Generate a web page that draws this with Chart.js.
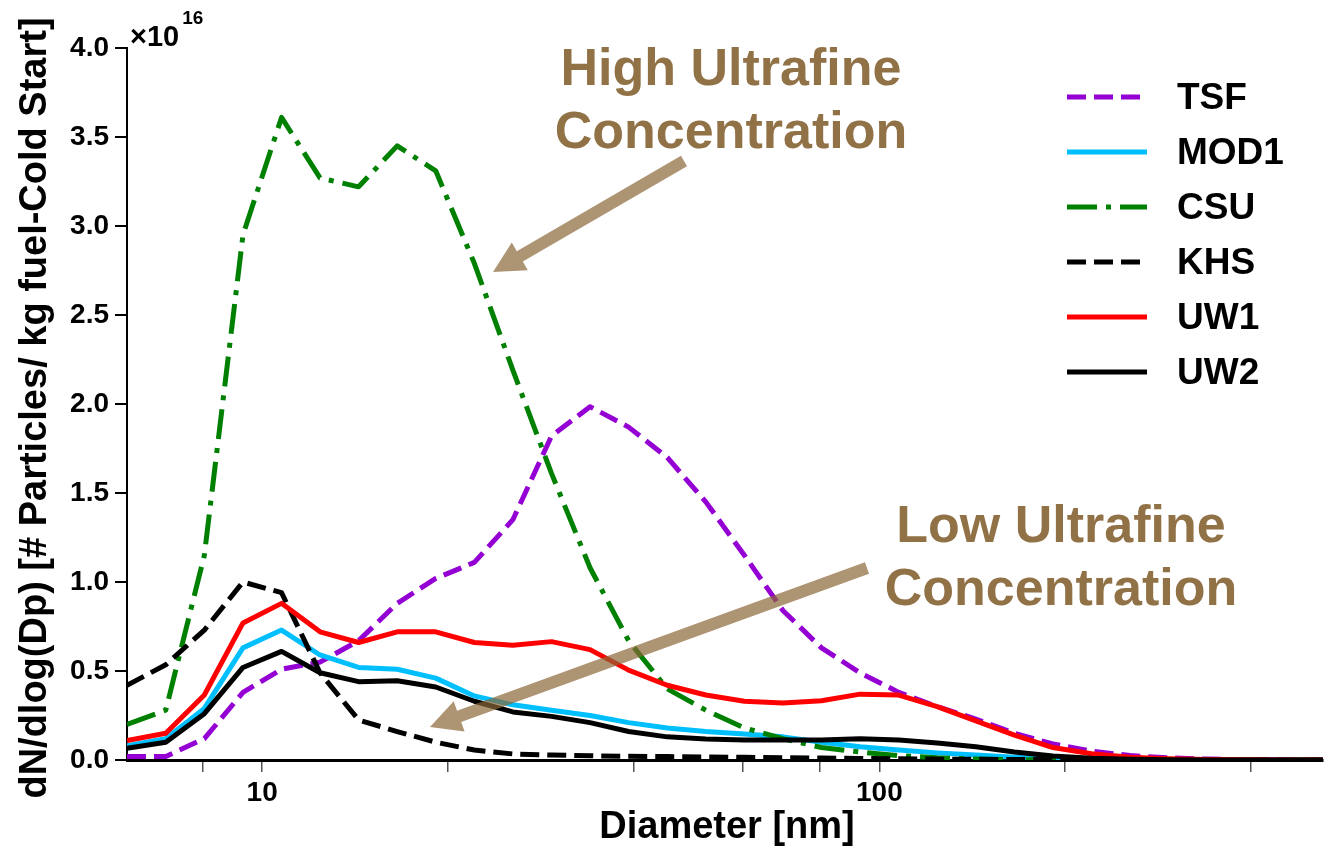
<!DOCTYPE html>
<html>
<head>
<meta charset="utf-8">
<script src="https://cdn.jsdelivr.net/npm/chart.js@4.4.1/dist/chart.umd.min.js"></script>
<style>
html,body{margin:0;padding:0;background:#fff;}
canvas{display:block;}
</style>
</head>
<body>
<canvas id="c" width="1332" height="847"></canvas>
<script>
// ---- data (values in units of 1e16) ----
const diameters = [6.04, 6.98, 8.06, 9.31, 10.75, 12.41, 14.33, 16.55, 19.11, 22.07, 25.48, 29.43, 33.98, 39.24, 45.32, 52.33, 60.43, 69.78, 80.58, 93.06, 107.5, 124.1, 143.3, 165.5, 191.1, 220.7, 254.8, 294.3, 339.8, 392.4, 453.2, 523.3];
const seriesNames = ["TSF", "MOD1", "CSU", "KHS", "UW1", "UW2"];
const tsf  = [0.02,0.02,0.12,0.38,0.51,0.55,0.67,0.88,1.02,1.11,1.35,1.82,1.985,1.87,1.70,1.45,1.15,0.84,0.63,0.49,0.38,0.30,0.23,0.15,0.09,0.05,0.025,0.012,0.005,0.002,0.001,0];
const mod1 = [0.08,0.12,0.29,0.63,0.73,0.59,0.52,0.51,0.46,0.36,0.31,0.28,0.25,0.21,0.18,0.16,0.146,0.13,0.10,0.075,0.056,0.04,0.028,0.015,0.006,0.002,0.001,0,0,0,0,0];
const csu  = [0.20,0.28,1.15,2.95,3.61,3.27,3.22,3.45,3.31,2.79,2.19,1.61,1.08,0.67,0.40,0.28,0.18,0.12,0.07,0.045,0.025,0.012,0.005,0.002,0.001,0,0,0,0,0,0,0];
const khs  = [0.42,0.535,0.73,1.00,0.94,0.49,0.225,0.16,0.10,0.056,0.034,0.028,0.024,0.021,0.019,0.017,0.015,0.013,0.011,0.009,0.007,0.005,0.004,0.003,0.002,0.001,0.001,0,0,0,0,0];
const uw1  = [0.11,0.15,0.365,0.77,0.88,0.72,0.66,0.72,0.72,0.66,0.645,0.665,0.62,0.505,0.42,0.365,0.33,0.32,0.333,0.37,0.365,0.30,0.22,0.14,0.07,0.035,0.015,0.007,0.003,0.001,0,0];
const uw2  = [0.066,0.10,0.26,0.52,0.61,0.49,0.44,0.445,0.41,0.33,0.27,0.245,0.21,0.16,0.13,0.118,0.112,0.112,0.112,0.12,0.112,0.095,0.075,0.045,0.022,0.01,0.004,0.001,0,0,0,0];
const xTickValues = [8, 10, 20, 40, 60, 80, 100, 200, 400];
const xTickLabels = ["", "10", "", "", "", "", "100", "", ""];
const yTickValues = [0, 0.5, 1.0, 1.5, 2.0, 2.5, 3.0, 3.5, 4.0];
const yExponentBase = "\u00d710";
const yExponentText = "16";
const xTitle = "Diameter [nm]";
const yTitle = "dN/dlog(Dp) [# Particles/ kg fuel-Cold Start]";
const noteHighLines = ["High Ultrafine", "Concentration"];
const noteLowLines = ["Low Ultrafine", "Concentration"];

const FONT = "'Liberation Sans', Arial, Helvetica, sans-serif";
const styles = [
  {color: "rgb(148,0,211)", dash: [19, 8]},
  {color: "rgb(0,191,255)", dash: []},
  {color: "rgb(0,128,0)", dash: [30, 9, 5, 9]},
  {color: "rgb(0,0,0)", dash: [19, 8]},
  {color: "rgb(255,0,0)", dash: []},
  {color: "rgb(0,0,0)", dash: []}
];
const allSeries = [tsf, mod1, csu, khs, uw1, uw2];

const datasets = allSeries.map((vals, i) => ({
  label: seriesNames[i],
  data: vals.map((v, j) => ({x: diameters[j], y: v})),
  borderColor: styles[i].color,
  backgroundColor: styles[i].color,
  borderDash: styles[i].dash,
  borderWidth: 5,
  pointRadius: 0,
  tension: 0,
  fill: false,
  order: allSeries.length - i,
  borderJoinStyle: "round"
}));

function drawArrow(ctx, x1, y1, x2, y2, color) {
  const dx = x2 - x1, dy = y2 - y1;
  const len = Math.hypot(dx, dy);
  const ux = dx / len, uy = dy / len;
  const px = -uy, py = ux;
  const headLen = 31, headHalf = 16, shaftHalf = 6;
  const bx = x2 - ux * headLen, by = y2 - uy * headLen;
  ctx.save();
  ctx.fillStyle = color;
  ctx.beginPath();
  ctx.moveTo(x1 + px * shaftHalf, y1 + py * shaftHalf);
  ctx.lineTo(bx + px * shaftHalf, by + py * shaftHalf);
  ctx.lineTo(bx + px * headHalf, by + py * headHalf);
  ctx.lineTo(x2, y2);
  ctx.lineTo(bx - px * headHalf, by - py * headHalf);
  ctx.lineTo(bx - px * shaftHalf, by - py * shaftHalf);
  ctx.lineTo(x1 - px * shaftHalf, y1 - py * shaftHalf);
  ctx.closePath();
  ctx.fill();
  ctx.restore();
}

const decorPlugin = {
  id: "decor",
  afterDatasetsDraw(chart) {
    const ctx = chart.ctx;
    ctx.save();
    // exponent label
    ctx.fillStyle = "#000";
    ctx.textBaseline = "alphabetic";
    ctx.textAlign = "left";
    ctx.font = "bold 29px " + FONT;
    ctx.fillText(yExponentBase, 130, 46);
    const w = ctx.measureText(yExponentBase).width;
    ctx.font = "bold 19px " + FONT;
    ctx.fillText(yExponentText, 130 + w + 3, 24);

    // axis titles
    ctx.font = "bold 38px " + FONT;
    ctx.textAlign = "center";
    ctx.textBaseline = "middle";
    ctx.fillText(xTitle, 727, 828);
    ctx.save();
    ctx.translate(36, 408);
    ctx.rotate(-Math.PI / 2);
    ctx.fillText(yTitle, 0, 0);
    ctx.restore();

    // legend
    ctx.textAlign = "left";
    ctx.textBaseline = "middle";
    ctx.font = "bold 37px " + FONT;
    chart.data.datasets.forEach((ds, i) => {
      const y = 97 + 55 * i;
      ctx.save();
      ctx.strokeStyle = ds.borderColor;
      ctx.lineWidth = 5;
      ctx.setLineDash(ds.borderDash || []);
      ctx.beginPath();
      ctx.moveTo(1067, y);
      ctx.lineTo(1147, y);
      ctx.stroke();
      ctx.restore();
      ctx.fillStyle = "#000";
      ctx.fillText(ds.label, 1177, y + 2);
    });

    // annotations
    const arrowColor = "rgba(138,103,55,0.7)";
    drawArrow(ctx, 684, 161, 493, 272, arrowColor);
    drawArrow(ctx, 867, 568, 430, 727, arrowColor);
    ctx.fillStyle = "rgb(145,113,70)";
    ctx.font = "bold 52px " + FONT;
    ctx.textAlign = "center";
    ctx.textBaseline = "alphabetic";
    ctx.fillText(noteHighLines[0], 731, 85);
    ctx.fillText(noteHighLines[1], 731, 148);
    ctx.fillText(noteLowLines[0], 1061, 542);
    ctx.fillText(noteLowLines[1], 1061, 605);
    ctx.restore();
  }
};

new Chart(document.getElementById("c"), {
  type: "line",
  data: {datasets},
  options: {
    responsive: false,
    animation: false,
    devicePixelRatio: 1,
    layout: {padding: {left: 0, top: 48, right: 9, bottom: 0}},
    plugins: {legend: {display: false}, tooltip: {enabled: false}},
    scales: {
      x: {
        type: "logarithmic",
        min: diameters[0],
        max: diameters[diameters.length - 1],
        afterFit(scale) { scale.height = 87; },
        afterBuildTicks(scale) { scale.ticks = xTickValues.map(v => ({value: v})); },
        ticks: {
          autoSkip: false,
          maxRotation: 0,
          padding: 4,
          color: "#000",
          font: {family: FONT, size: 28, weight: "bold"},
          callback(value) {
            const idx = xTickValues.indexOf(value);
            return idx >= 0 ? xTickLabels[idx] : "";
          }
        },
        grid: {drawOnChartArea: false, drawTicks: true, tickLength: 12, color: "#555", lineWidth: 1.5},
        border: {display: true, color: "#000", width: 3}
      },
      y: {
        min: 0,
        max: 4,
        afterFit(scale) { scale.width = 127; },
        afterBuildTicks(scale) { scale.ticks = yTickValues.map(v => ({value: v})); },
        ticks: {
          padding: 6,
          color: "#000",
          font: {family: FONT, size: 28, weight: "bold"},
          callback(value) { return value.toFixed(1); }
        },
        grid: {drawOnChartArea: false, drawTicks: true, tickLength: 12, color: "#000", lineWidth: 2},
        border: {display: true, color: "#000", width: 2}
      }
    }
  },
  plugins: [decorPlugin]
});
</script>
</body>
</html>
